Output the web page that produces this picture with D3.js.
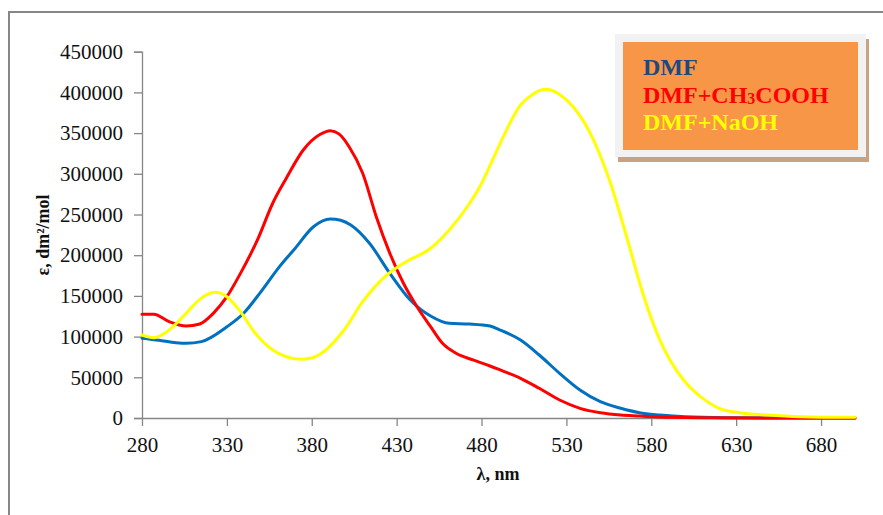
<!DOCTYPE html>
<html>
<head>
<meta charset="utf-8">
<script src="https://cdn.jsdelivr.net/npm/d3@7"></script>
<style>
  html, body { margin: 0; padding: 0; background: #fff; }
  svg { display: block; font-family: "Liberation Serif", "Times New Roman", serif; }
</style>
</head>
<body>
<svg id="chart" width="883" height="515"></svg>
<script>
// ---- data ----
const xTicks = [280, 330, 380, 430, 480, 530, 580, 630, 680];
const yTicks = [0, 50000, 100000, 150000, 200000, 250000, 300000, 350000, 400000, 450000];

const dmfWl = [280, 290, 300, 306, 315, 330, 340, 350, 361, 370, 381, 391, 397, 403, 414, 426, 438, 450, 461, 473, 485, 491, 503, 514, 526, 538, 550, 562, 573, 585, 600, 627, 650, 700];
const dmfEps = [98000, 95500, 92500, 91700, 93800, 112000, 129000, 155000, 186000, 208000, 235000, 244500, 243000, 237000, 214600, 177700, 145000, 125300, 116300, 115500, 113000, 108100, 95800, 77400, 54900, 34400, 20000, 11900, 6500, 3700, 1500, 300, 0, 0];

const acidWl = [280, 287, 296, 306, 314, 322, 330, 338, 348, 357, 365, 375, 385, 391, 396, 402, 410, 418, 426, 434, 442, 450, 457, 465, 475, 485, 491, 503, 514, 526, 538, 550, 562, 573, 590, 610, 700];
const acidEps = [127400, 127400, 118300, 113000, 115500, 128600, 149000, 177700, 218700, 263800, 294500, 329200, 348500, 353000, 349000, 333300, 300600, 247300, 202300, 165500, 136700, 112200, 91700, 79500, 71300, 63900, 59000, 48800, 36500, 22100, 11900, 6500, 3700, 2500, 800, 200, 0];

const baseWl = [280, 287, 296, 306, 314, 323, 330, 338, 346, 357, 365, 374, 379, 387, 399, 410, 422, 434, 450, 461, 473, 479, 485, 491, 503, 510, 518, 526, 534, 546, 556, 566, 575, 585, 591, 599, 609, 620, 632, 648, 668, 700];
const baseEps = [102000, 98700, 108100, 128600, 145800, 154400, 149000, 130600, 106000, 83500, 75300, 72100, 73300, 81500, 108100, 142900, 171600, 190000, 208500, 231000, 263800, 284100, 310000, 337500, 384500, 397500, 403800, 397500, 382400, 341500, 288300, 218700, 153200, 96000, 71300, 46700, 26200, 11900, 6500, 3700, 1600, 800];

const seriesNames = ["DMF", "DMF+CH\u2083COOH", "DMF+NaOH"];
const seriesColors = ["#0070C0", "#FF0000", "#FFFF00"];
const legendColors = ["#1F497D", "#FF0000", "#FFFF00"];
const xTitle = "\u03BB, nm";
const yTitle = "\u03B5, dm\u00B2/mol";

// ---- layout ----
const svg = d3.select("#chart");
svg.append("rect").attr("width", 883).attr("height", 515).attr("fill", "#fff");
// outer chart frame (left and top visible)
svg.append("path").attr("d", "M9,520 L9,12 L890,12")
  .attr("fill", "none").attr("stroke", "#868686").attr("stroke-width", 2);

const x = d3.scaleLinear().domain([280, 700]).range([142, 855]);
const y = d3.scaleLinear().domain([0, 450000]).range([418, 51.7]);

// y axis
const yAxis = svg.append("g").attr("transform", "translate(142,0)")
  .call(d3.axisLeft(y).tickValues(yTicks).tickFormat(d3.format("d")).tickSize(8).tickPadding(11));
yAxis.select(".domain").attr("stroke", "#868686").attr("stroke-width", 1.3);
yAxis.selectAll(".tick line").attr("stroke", "#868686").attr("stroke-width", 1.3);
yAxis.selectAll(".tick text").attr("font-size", 21).attr("fill", "#111")
  .attr("font-family", "Liberation Serif, serif");

// x axis
const xAxis = svg.append("g").attr("transform", "translate(0,418)")
  .call(d3.axisBottom(x).tickValues(xTicks).tickFormat(d3.format("d")).tickSize(8).tickPadding(11).tickSizeOuter(0));
xAxis.select(".domain").attr("stroke", "#868686").attr("stroke-width", 1.3);
xAxis.selectAll(".tick line").attr("stroke", "#868686").attr("stroke-width", 1.3);
xAxis.selectAll(".tick text").attr("font-size", 21).attr("fill", "#111")
  .attr("font-family", "Liberation Serif, serif");

// axis titles
svg.append("text").attr("x", 498).attr("y", 480).attr("text-anchor", "middle")
  .attr("font-weight", "bold").attr("font-size", 18).attr("fill", "#111").text(xTitle);
svg.append("text").attr("transform", "translate(49,235) rotate(-90)").attr("text-anchor", "middle")
  .attr("font-weight", "bold").attr("font-size", 18).attr("fill", "#111").text(yTitle);

// lines
const series = [
  dmfWl.map((w, i) => [w, dmfEps[i]]),
  acidWl.map((w, i) => [w, acidEps[i]]),
  baseWl.map((w, i) => [w, baseEps[i]])
];
const line = d3.line().x(d => x(d[0])).y(d => y(d[1])).curve(d3.curveMonotoneX);
series.forEach((s, i) => {
  svg.append("path").datum(s).attr("d", line)
    .attr("fill", "none").attr("stroke", seriesColors[i]).attr("stroke-width", 3)
    .attr("stroke-linejoin", "round").attr("stroke-linecap", "round");
});

// legend
const lg = svg.append("g");
lg.append("rect").attr("x", 618).attr("y", 39).attr("width", 251).attr("height", 123).attr("fill", "#c9a282");
lg.append("rect").attr("x", 615).attr("y", 34).attr("width", 251).attr("height", 123).attr("fill", "#f2f2f2");
lg.append("rect").attr("x", 623).attr("y", 42).attr("width", 235).attr("height", 108).attr("fill", "#F79646");
const baselines = [74.5, 102.5, 129.5];
seriesNames.forEach((n, i) => {
  const t = lg.append("text").attr("x", 643).attr("y", baselines[i])
    .attr("font-weight", "bold").attr("font-size", 24).attr("fill", legendColors[i]);
  if (n.indexOf("\u2083") >= 0) {
    const parts = n.split("\u2083");
    t.append("tspan").text(parts[0]);
    t.append("tspan").attr("font-size", 16).attr("dy", 1).text("3");
    t.append("tspan").attr("dy", -1).text(parts[1]);
  } else {
    t.text(n);
  }
});
</script>
</body>
</html>
